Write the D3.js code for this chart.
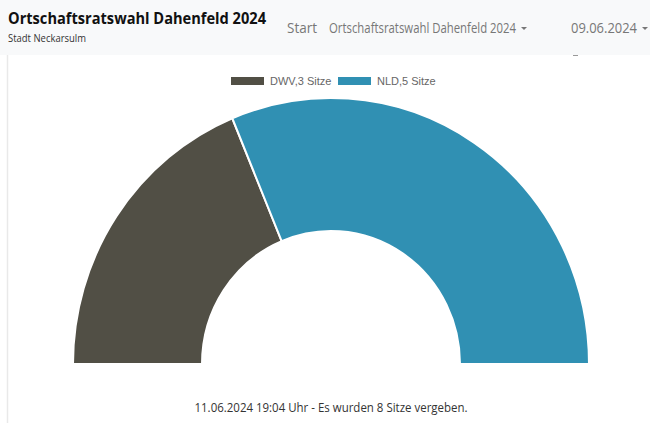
<!DOCTYPE html>
<html>
<head>
<meta charset="utf-8">
<script src="https://cdn.jsdelivr.net/npm/d3@7"></script>
<style>
  body { margin: 0; background: #fff; }
  svg { display: block; }
</style>
</head>
<body>
<script>
// DATA
var parties = ["DWV", "NLD"];
var seats = [3, 5];
var colors = ["#514f45", "#3090b3"];
var footerText = "11.06.2024 19:04 Uhr - Es wurden 8 Sitze vergeben.";

var width = 650, height = 423;

var svg = d3.select("body").append("svg")
  .attr("width", width)
  .attr("height", height);

// header bar
svg.append("rect").attr("x", 0).attr("y", 0).attr("width", width).attr("height", 55).attr("fill", "#f8f9fa");
svg.append("line").attr("x1", 7.5).attr("x2", 7.5).attr("y1", 55).attr("y2", height)
  .attr("stroke", "#e9e9e9").attr("stroke-width", 1.5);
svg.append("line").attr("x1", 573).attr("x2", 578).attr("y1", 55.5).attr("y2", 55.5)
  .attr("stroke", "#999").attr("stroke-width", 1);

var font = "'Open Sans', 'Noto Sans', sans-serif";
svg.append("text").attr("x", 8).attr("y", 24)
  .style("font-family", font).style("font-weight", "bold").style("font-size", "16px")
  .attr("fill", "#111").attr("textLength", 258).attr("lengthAdjust", "spacingAndGlyphs")
  .text("Ortschaftsratswahl Dahenfeld 2024");
svg.append("text").attr("x", 8).attr("y", 42)
  .style("font-family", font).style("font-size", "10px").attr("fill", "#333")
  .attr("textLength", 78).attr("lengthAdjust", "spacingAndGlyphs")
  .text("Stadt Neckarsulm");

var nav = [
  {t: "Start", x: 287, w: 30, caret: false},
  {t: "Ortschaftsratswahl Dahenfeld 2024", x: 329, w: 187, caret: true},
  {t: "09.06.2024", x: 571, w: 66, caret: true}
];
nav.forEach(function(n) {
  svg.append("text").attr("x", n.x).attr("y", 33)
    .style("font-family", font).style("font-size", "14.5px").attr("fill", "#777")
    .attr("textLength", n.w).attr("lengthAdjust", "spacingAndGlyphs")
    .text(n.t);
  if (n.caret) {
    var cx = n.x + n.w + 8;
    svg.append("path").attr("d", "M" + (cx - 3) + ",27 L" + (cx + 3) + ",27 L" + cx + ",30 Z").attr("fill", "#777");
  }
});

// half donut (screenshot is slightly stretched vertically)
var cx = 331, cy = 364, outerR = 258, innerR = 129, yStretch = 266 / 258;
var pie = d3.pie().sort(null).value(function(d) { return d; })
  .startAngle(-Math.PI / 2).endAngle(Math.PI / 2);
var arc = d3.arc().innerRadius(innerR).outerRadius(outerR);

svg.append("g").attr("transform", "translate(" + cx + "," + cy + ") scale(1," + yStretch + ")")
  .selectAll("path")
  .data(pie(seats))
  .enter().append("path")
  .attr("d", arc)
  .attr("fill", function(d, i) { return colors[i]; })
  .attr("stroke", "#fff")
  .attr("stroke-width", 2);

// legend
var legendX = [231, 338];
var lg = svg.append("g").selectAll("g").data(parties).enter().append("g")
  .attr("transform", function(d, i) { return "translate(" + legendX[i] + ",77)"; });
lg.append("rect").attr("width", 33).attr("height", 8)
  .attr("fill", function(d, i) { return colors[i]; });
lg.append("text").attr("x", 39).attr("y", 8)
  .style("font-family", "'Liberation Sans', Arial, sans-serif").style("font-size", "11px")
  .attr("fill", "#666")
  .text(function(d, i) { return d + "," + seats[i] + " Sitze"; });

// footer
svg.append("text").attr("x", cx).attr("y", 412).attr("text-anchor", "middle")
  .style("font-family", font).style("font-size", "12px").attr("fill", "#333")
  .attr("textLength", 273).attr("lengthAdjust", "spacingAndGlyphs")
  .text(footerText);
</script>
</body>
</html>
